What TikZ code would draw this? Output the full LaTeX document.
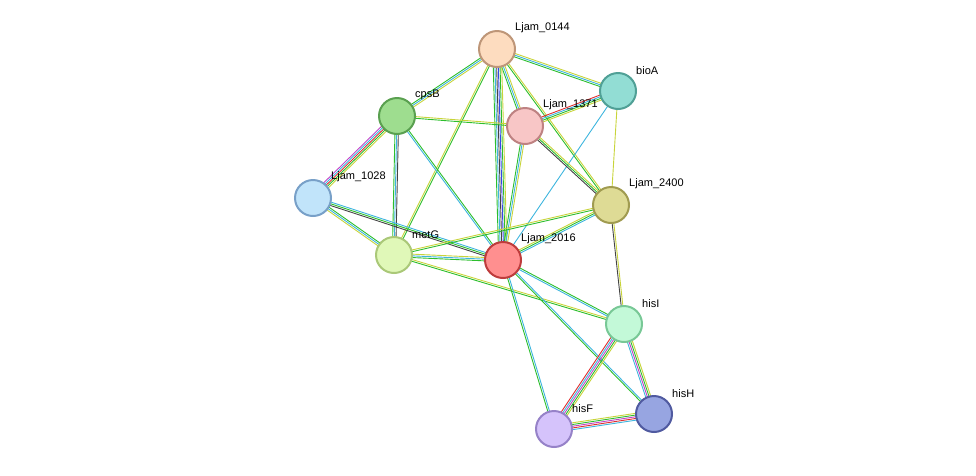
\documentclass[tikz,border=0pt]{standalone}
\usepackage{fontspec}
\setmainfont{Liberation Sans}
\usetikzlibrary{calc,backgrounds}
\definecolor{cg}{HTML}{2DBE2D}
\definecolor{cy}{HTML}{C8D43A}
\definecolor{cb}{HTML}{3DB5DE}
\definecolor{ck}{HTML}{444444}
\definecolor{cp}{HTML}{C046C8}
\definecolor{cr}{HTML}{E03030}
\definecolor{cu}{HTML}{3545E8}
\definecolor{f1}{HTML}{FDDCBF}\definecolor{d1}{HTML}{BE9678}
\definecolor{f2}{HTML}{92DDD4}\definecolor{d2}{HTML}{50A096}
\definecolor{f3}{HTML}{9EDD8F}\definecolor{d3}{HTML}{5AA050}
\definecolor{f4}{HTML}{F8C6C6}\definecolor{d4}{HTML}{BE8282}
\definecolor{f5}{HTML}{C1E4FA}\definecolor{d5}{HTML}{78A0C8}
\definecolor{f6}{HTML}{DEDB95}\definecolor{d6}{HTML}{A09B50}
\definecolor{f7}{HTML}{E0F8B8}\definecolor{d7}{HTML}{AAC878}
\definecolor{f8}{HTML}{FF8F8F}\definecolor{d8}{HTML}{BE3C3C}
\definecolor{f9}{HTML}{C3F9D8}\definecolor{d9}{HTML}{78C896}
\definecolor{f10}{HTML}{97A5E1}\definecolor{d10}{HTML}{505AA0}
\definecolor{f11}{HTML}{D5C3FB}\definecolor{d11}{HTML}{9682C8}
\tikzset{prot/.style={circle,minimum size=36pt,inner sep=0pt,line width=2pt},
lab/.style={font=\fontsize{11}{12}\selectfont,anchor=south west,inner sep=0pt}}
\newcommand\sedge[4]{%
\foreach \c [count=\i] in {#4} {%
\pgfmathsetmacro\off{(\i-1-(#3-1)/2)*1.7}%
\draw[draw=\c,line width=0.9pt] let \p1=($(#2.center)-(#1.center)$), \n1={atan2(\y1,\x1)+90} in
 ($(#1.center)+(\n1:\off pt)$) -- ($(#2.center)+(\n1:\off pt)$);}}
\begin{document}
\begin{tikzpicture}[x=1pt,y=-1pt]
\useasboundingbox (0,0) rectangle (976,475);
\node[prot,fill=f1,draw=d1] (n0144) at (497,49) {};
\node[prot,fill=f2,draw=d2] (bioA) at (618,91) {};
\node[prot,fill=f3,draw=d3] (cpsB) at (397,116) {};
\node[prot,fill=f4,draw=d4] (n1371) at (525,126) {};
\node[prot,fill=f5,draw=d5] (n1028) at (313,198) {};
\node[prot,fill=f6,draw=d6] (n2400) at (611,205) {};
\node[prot,fill=f7,draw=d7] (metG) at (394,255) {};
\node[prot,fill=f8,draw=d8] (n2016) at (503,260) {};
\node[prot,fill=f9,draw=d9] (hisI) at (624,324) {};
\node[prot,fill=f10,draw=d10] (hisH) at (654,414) {};
\node[prot,fill=f11,draw=d11] (hisF) at (554,429) {};
\begin{scope}[on background layer]
\sedge{n0144}{cpsB}{3}{cg,cb,cy}
\sedge{n0144}{bioA}{3}{cg,cb,cy}
\sedge{n0144}{n1371}{3}{cg,cb,cy}
\sedge{n0144}{n2016}{6}{cg,cb,ck,cu,cg,cy}
\sedge{n0144}{metG}{2}{cy,cg}
\sedge{n0144}{n2400}{2}{cg,cy}
\sedge{bioA}{n1371}{4}{cr,cb,cg,cy}
\sedge{bioA}{n2016}{1}{cb}
\sedge{bioA}{n2400}{1}{cy}
\sedge{cpsB}{n1028}{5}{cp,cb,cr,cg,cy}
\sedge{cpsB}{metG}{3}{cg,cb,ck}
\sedge{cpsB}{n1371}{2}{cg,cy}
\sedge{cpsB}{n2016}{2}{cb,cg}
\sedge{n1371}{n2016}{3}{cg,cb,cy}
\sedge{n1371}{n2400}{3}{ck,cg,cy}
\sedge{n1028}{metG}{3}{cy,cb,cg}
\sedge{n1028}{n2016}{3}{ck,cg,cb}
\sedge{metG}{n2016}{3}{cg,cb,cy}
\sedge{metG}{n2400}{2}{cg,cy}
\sedge{metG}{hisI}{2}{cg,cy}
\sedge{n2016}{n2400}{3}{cb,cg,cy}
\sedge{n2016}{hisI}{2}{cb,cg}
\sedge{n2016}{hisH}{2}{cg,cb}
\sedge{n2016}{hisF}{2}{cg,cb}
\sedge{n2400}{hisI}{2}{ck,cy}
\sedge{hisI}{hisH}{4}{cb,cp,cg,cy}
\sedge{hisI}{hisF}{5}{cr,cb,cp,cg,cy}
\sedge{hisF}{hisH}{5}{cb,cr,cp,cg,cy}
\end{scope}
\node[lab] at (515,33) {Ljam\_0144};
\node[lab] at (636,75) {bioA};
\node[lab] at (415,100) {cpsB};
\node[lab] at (543,110) {Ljam\_1371};
\node[lab] at (331,182) {Ljam\_1028};
\node[lab] at (629,189) {Ljam\_2400};
\node[lab] at (412,239) {metG};
\node[lab] at (521,244) {Ljam\_2016};
\node[lab] at (642,308) {hisI};
\node[lab] at (672,398) {hisH};
\node[lab] at (572,413) {hisF};
\end{tikzpicture}
\end{document}
